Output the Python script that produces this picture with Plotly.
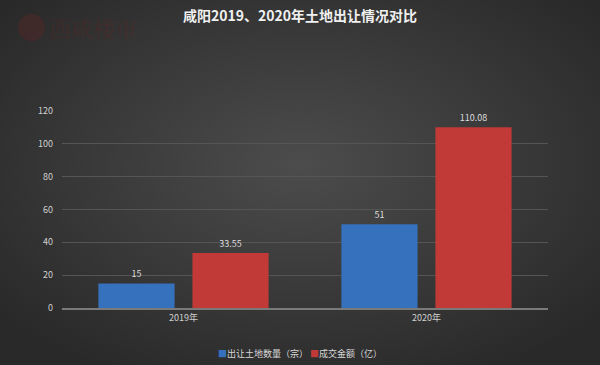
import plotly.graph_objects as go

categories = ["2019年", "2020年"]
land_count = [15, 51]
deal_amount = [33.55, 110.08]
count_labels = ["15", "51"]
amount_labels = ["33.55", "110.08"]
series_names = ["出让土地数量（宗）", "成交金额（亿）"]
series_colors = ["#3571bd", "#c13a37"]
title_text = "咸阳2019、2020年土地出让情况对比"

W, H = 600, 365
L, R, T, B = 62, 52, 111, 57
pw, ph = W - L - R, H - T - B

FONT = "Noto Sans CJK SC, Microsoft YaHei, sans-serif"

svg = ('<svg xmlns="http://www.w3.org/2000/svg" width="600" height="365">'
       '<defs><radialGradient id="g" cx="50%" cy="45%" r="65%">'
       '<stop offset="0" stop-color="#4c4c4c"/><stop offset="1" stop-color="#292929"/>'
       '</radialGradient></defs><rect width="600" height="365" fill="url(#g)"/></svg>')
bg_uri = "data:image/svg+xml;utf8," + svg.replace("#", "%23").replace('"', "'")

fig = go.Figure()
for vals, labels, name, color in [(land_count, count_labels, series_names[0], series_colors[0]),
                                  (deal_amount, amount_labels, series_names[1], series_colors[1])]:
    fig.add_trace(go.Bar(
        x=categories, y=vals, name=name,
        marker=dict(color=color, line=dict(width=0)),
        text=labels, textposition="outside",
        textfont=dict(size=9, color="#dddddd", family=FONT),
        cliponaxis=False, showlegend=False,
    ))

fig.update_layout(
    width=W, height=H,
    margin=dict(l=L, r=R, t=T, b=B, autoexpand=False),
    paper_bgcolor="#333333",
    plot_bgcolor="rgba(0,0,0,0)",
    barmode="group", bargap=0.226, bargroupgap=0.19,
    font=dict(family=FONT, size=9, color="#d0d0d0"),
    title=dict(text="<b>" + title_text + "</b>", x=0.5, xanchor="center",
               y=1 - 16 / H, yanchor="middle",
               font=dict(size=14, color="#f0f0f0", family=FONT)),
    xaxis=dict(showgrid=False, showline=True, linecolor="#7a7a7a", linewidth=2,
               ticks="", tickfont=dict(size=9, color="#d0d0d0"), zeroline=False),
    yaxis=dict(range=[0, 120], dtick=20, showgrid=True, gridcolor="#555555",
               gridwidth=1, zeroline=False, showline=False, ticks="",
               tickfont=dict(size=9, color="#d0d0d0"), ticklabelstandoff=8),
    images=[dict(source=bg_uri, xref="paper", yref="paper",
                 x=-L / pw, y=1 + T / ph, sizex=W / pw, sizey=H / ph,
                 xanchor="left", yanchor="top", sizing="stretch", layer="below")],
)

# legend as text
legend_text = ("<span style='color:%s'>■</span>%s <span style='color:%s'>■</span>%s"
               % (series_colors[0], series_names[0], series_colors[1], series_names[1]))
fig.add_annotation(text=legend_text, xref="paper", yref="paper",
                   x=0.5 * (W / pw) - L / pw, y=-(353 - (T + ph)) / ph,
                   xanchor="center", yanchor="middle", showarrow=False,
                   font=dict(size=9, color="#d8d8d8", family=FONT))

# faint watermark
fig.add_shape(type="circle", xref="paper", yref="paper",
              x0=(18 - L) / pw, x1=(45 - L) / pw,
              y0=1 + (T - 41) / ph, y1=1 + (T - 14) / ph,
              fillcolor="rgba(120,30,30,0.25)", line=dict(width=0), layer="below")
fig.add_annotation(text="西咸楼市", xref="paper", yref="paper",
                   x=(47 - L) / pw, y=1 + (T - 28) / ph, xanchor="left", yanchor="middle",
                   showarrow=False,
                   font=dict(size=22, color="rgba(120,30,30,0.25)", family="Noto Serif CJK SC, serif"))

fig.write_html("out.html", config={"displayModeBar": False},
               post_script="document.body.style.margin='0';document.body.style.padding='0';"
                           "document.body.style.background='#333';")
